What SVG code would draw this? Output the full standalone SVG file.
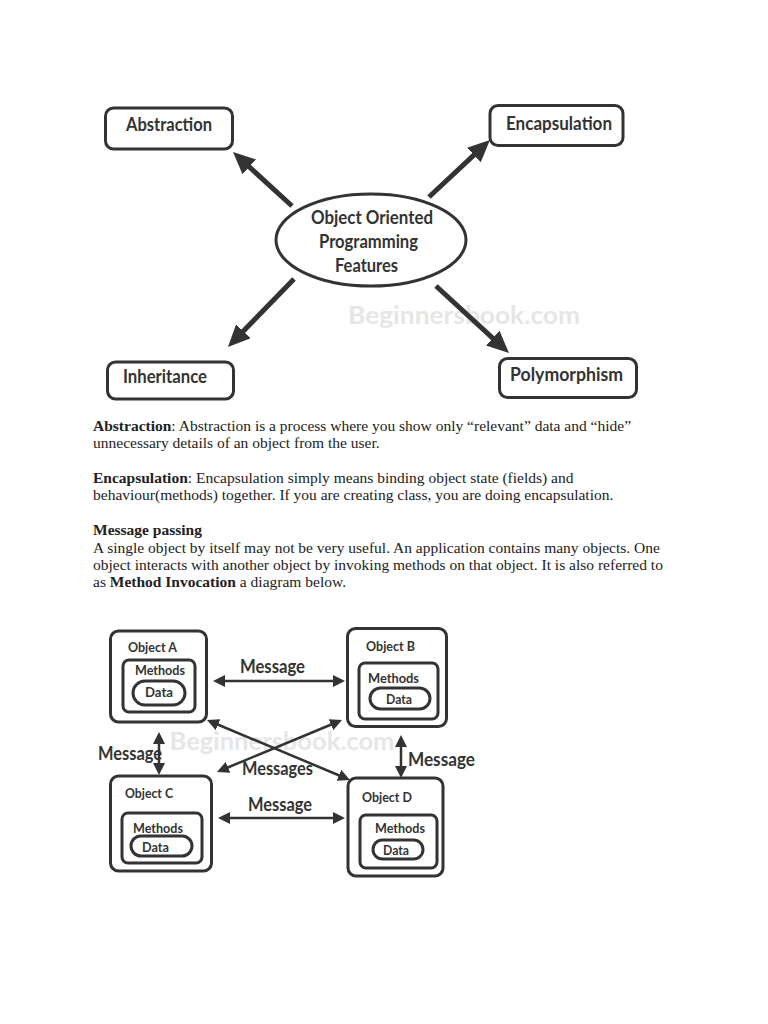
<svg xmlns="http://www.w3.org/2000/svg" width="768" height="1024" viewBox="0 0 768 1024">
<style>
.bg{fill:#ffffff}
.box{fill:#ffffff;stroke:#333333;stroke-width:3}
.lbl{font-family:Lato,"Open Sans","Liberation Sans",sans-serif;font-weight:700;fill:#333333}
.big{font-size:19px}
.obj{font-size:14px}
.msg{font-size:18px}
.wm{font-family:Lato,"Liberation Sans",sans-serif;font-weight:700;fill:#e6e6e6;font-size:25px}
.body{font-family:"Liberation Serif","Times New Roman",serif;font-size:15.5px;fill:#222222}
.thick{stroke:#333333;stroke-width:5;fill:none}
.thin{stroke:#333333;stroke-width:2.5;fill:none}
</style>
<defs>
<marker id="bigHead" markerUnits="userSpaceOnUse" markerWidth="24" markerHeight="22" refX="4" refY="10" orient="auto" viewBox="0 0 24 22">
<path d="M0,0 L22,10 L0,20 z" fill="#333333"/>
</marker>
<marker id="smallHead" markerUnits="userSpaceOnUse" markerWidth="14" markerHeight="14" refX="3" refY="6" orient="auto-start-reverse" viewBox="0 0 14 14">
<path d="M0,0 L12,6 L0,12 z" fill="#333333"/>
</marker>
</defs>
<rect class="bg" x="0" y="0" width="768" height="1024"/>

<!-- watermarks -->
<text class="wm" x="464" y="324" text-anchor="middle" textLength="232" lengthAdjust="spacingAndGlyphs">Beginnersbook.com</text>
<text class="wm" x="282" y="750" text-anchor="middle" textLength="225" lengthAdjust="spacingAndGlyphs">Beginnersbook.com</text>

<!-- top diagram connectors -->
<g id="connectors-top">
<line class="thick" x1="292" y1="206" x2="246.3" y2="164.2" marker-end="url(#bigHead)"/>
<line class="thick" x1="429" y1="197" x2="476.8" y2="152.3" marker-end="url(#bigHead)"/>
<line class="thick" x1="294" y1="279" x2="240.5" y2="334.1" marker-end="url(#bigHead)"/>
<line class="thick" x1="436" y1="286" x2="495.7" y2="340.8" marker-end="url(#bigHead)"/>
</g>

<g id="oop-features">
<ellipse class="box" cx="371" cy="240" rx="95" ry="46"/>
<text class="lbl big" x="372" y="224" text-anchor="middle" textLength="122" lengthAdjust="spacingAndGlyphs">Object Oriented</text>
<text class="lbl big" x="368.5" y="248" text-anchor="middle" textLength="99" lengthAdjust="spacingAndGlyphs">Programming</text>
<text class="lbl big" x="366.5" y="272" text-anchor="middle" textLength="63" lengthAdjust="spacingAndGlyphs">Features</text>
</g>
<g id="abstraction">
<rect class="box" x="105.5" y="108" width="127" height="41" rx="8"/>
<text class="lbl big" x="169" y="131" text-anchor="middle" textLength="86" lengthAdjust="spacingAndGlyphs">Abstraction</text>
</g>
<g id="encapsulation">
<rect class="box" x="490" y="105.5" width="133" height="40" rx="8"/>
<text class="lbl big" x="559" y="130" text-anchor="middle" textLength="106" lengthAdjust="spacingAndGlyphs">Encapsulation</text>
</g>
<g id="inheritance">
<rect class="box" x="107.5" y="362" width="126" height="37" rx="8"/>
<text class="lbl big" x="165" y="383" text-anchor="middle" textLength="84" lengthAdjust="spacingAndGlyphs">Inheritance</text>
</g>
<g id="polymorphism">
<rect class="box" x="499.5" y="358.5" width="137" height="39" rx="8"/>
<text class="lbl big" x="566.5" y="381" text-anchor="middle" textLength="113" lengthAdjust="spacingAndGlyphs">Polymorphism</text>
</g>

<!-- body text -->
<g id="body-text">
<text class="body" x="93" y="431"><tspan font-weight="bold">Abstraction</tspan>: Abstraction is a process where you show only “relevant” data and “hide”</text>
<text class="body" x="93" y="448">unnecessary details of an object from the user.</text>
<text class="body" x="93" y="483"><tspan font-weight="bold">Encapsulation</tspan>: Encapsulation simply means binding object state (fields) and</text>
<text class="body" x="93" y="500">behaviour(methods) together. If you are creating class, you are doing encapsulation.</text>
<text class="body" x="93" y="535" font-weight="bold">Message passing</text>
<text class="body" x="93" y="553">A single object by itself may not be very useful. An application contains many objects. One</text>
<text class="body" x="93" y="570">object interacts with another object by invoking methods on that object. It is also referred to</text>
<text class="body" x="93" y="587">as <tspan font-weight="bold">Method Invocation</tspan> a diagram below.</text>
</g>

<!-- bottom diagram connectors -->
<g id="connectors-bottom">
<line class="thin" x1="222" y1="681" x2="336" y2="681" marker-start="url(#smallHead)" marker-end="url(#smallHead)"/>
<line class="thin" x1="159" y1="741" x2="159" y2="766" marker-start="url(#smallHead)" marker-end="url(#smallHead)"/>
<line class="thin" x1="401" y1="744" x2="401" y2="769" marker-start="url(#smallHead)" marker-end="url(#smallHead)"/>
<line class="thin" x1="227" y1="818" x2="336" y2="818" marker-start="url(#smallHead)" marker-end="url(#smallHead)"/>
<line class="thin" x1="215.3" y1="723.5" x2="341.7" y2="776.5" marker-start="url(#smallHead)" marker-end="url(#smallHead)"/>
<line class="thin" x1="333.7" y1="723.5" x2="225.3" y2="768.5" marker-start="url(#smallHead)" marker-end="url(#smallHead)"/>
<text class="lbl msg" x="272.5" y="673" text-anchor="middle" textLength="65" lengthAdjust="spacingAndGlyphs">Message</text>
<text class="lbl msg" x="98" y="760" textLength="64" lengthAdjust="spacingAndGlyphs">Message</text>
<text class="lbl msg" x="277.5" y="775" text-anchor="middle" textLength="71" lengthAdjust="spacingAndGlyphs">Messages</text>
<text class="lbl msg" x="408" y="766" textLength="67" lengthAdjust="spacingAndGlyphs">Message</text>
<text class="lbl msg" x="280" y="811" text-anchor="middle" textLength="64" lengthAdjust="spacingAndGlyphs">Message</text>
</g>

<g id="object-a">
<rect class="box" x="110.5" y="631" width="96" height="91" rx="8"/>
<text class="lbl obj" x="128" y="652" textLength="49" lengthAdjust="spacingAndGlyphs">Object A</text>
<rect class="box" x="123" y="660" width="72" height="52" rx="6"/>
<text class="lbl obj" x="160" y="675" text-anchor="middle" textLength="50" lengthAdjust="spacingAndGlyphs">Methods</text>
<rect class="box" x="133" y="681" width="52" height="24" rx="12"/>
<text class="lbl obj" x="159" y="697" text-anchor="middle" textLength="28" lengthAdjust="spacingAndGlyphs">Data</text>
</g>
<g id="object-b">
<rect class="box" x="347.5" y="628.5" width="99" height="98" rx="8"/>
<text class="lbl obj" x="366" y="651" textLength="49" lengthAdjust="spacingAndGlyphs">Object B</text>
<rect class="box" x="359" y="663" width="79" height="56" rx="6"/>
<text class="lbl obj" x="393.5" y="683" text-anchor="middle" textLength="51" lengthAdjust="spacingAndGlyphs">Methods</text>
<rect class="box" x="370" y="688" width="60" height="21" rx="10.5"/>
<text class="lbl obj" x="399" y="704" text-anchor="middle" textLength="26" lengthAdjust="spacingAndGlyphs">Data</text>
</g>
<g id="object-c">
<rect class="box" x="110.5" y="776" width="101" height="95" rx="8"/>
<text class="lbl obj" x="125" y="798" textLength="48" lengthAdjust="spacingAndGlyphs">Object C</text>
<rect class="box" x="122" y="813" width="80" height="50" rx="6"/>
<text class="lbl obj" x="158" y="833" text-anchor="middle" textLength="50" lengthAdjust="spacingAndGlyphs">Methods</text>
<rect class="box" x="131" y="836" width="61" height="20" rx="10"/>
<text class="lbl obj" x="155.5" y="852" text-anchor="middle" textLength="27" lengthAdjust="spacingAndGlyphs">Data</text>
</g>
<g id="object-d">
<rect class="box" x="348" y="778" width="95" height="98" rx="8"/>
<text class="lbl obj" x="362" y="802" textLength="50" lengthAdjust="spacingAndGlyphs">Object D</text>
<rect class="box" x="360" y="815" width="77" height="53" rx="6"/>
<text class="lbl obj" x="400" y="833" text-anchor="middle" textLength="50" lengthAdjust="spacingAndGlyphs">Methods</text>
<rect class="box" x="373" y="840" width="50" height="19" rx="9.5"/>
<text class="lbl obj" x="396" y="855" text-anchor="middle" textLength="26" lengthAdjust="spacingAndGlyphs">Data</text>
</g>
</svg>
